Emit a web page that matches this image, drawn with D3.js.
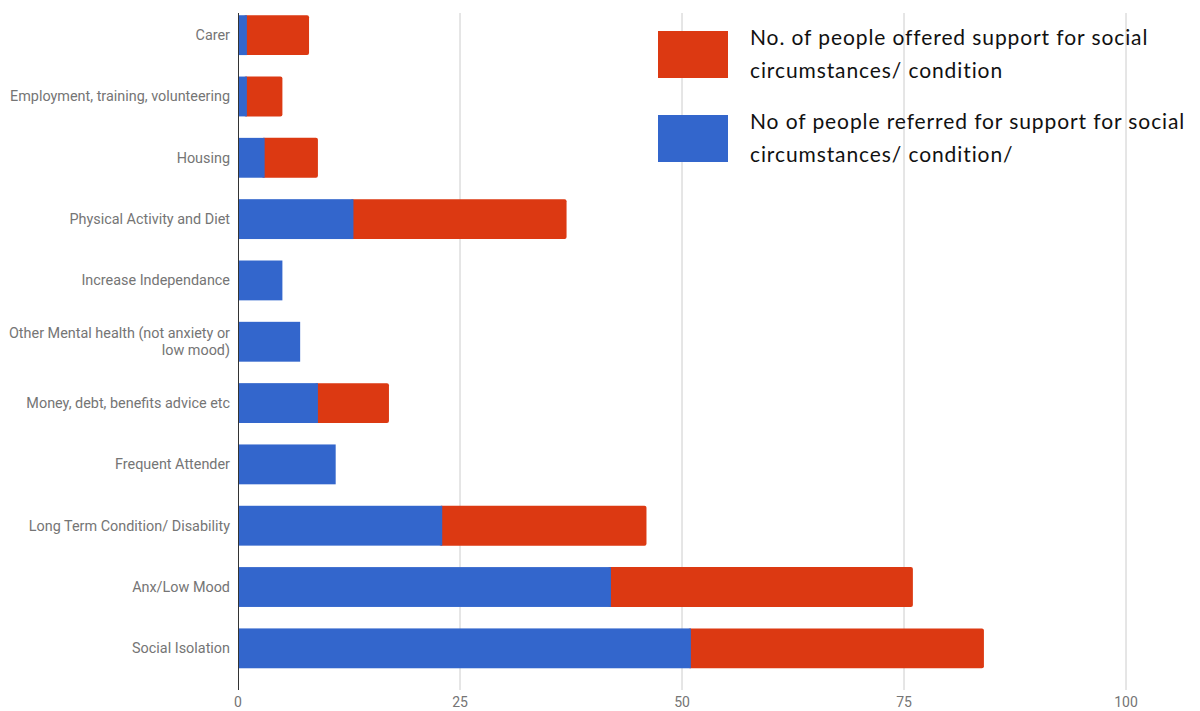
<!DOCTYPE html>
<html>
<head>
<meta charset="utf-8">
<script src="https://cdn.jsdelivr.net/npm/d3@7"></script>
<style>
  body { margin: 0; background: #fff; }
  svg { display: block; }
</style>
</head>
<body>
<div id="chart"></div>
<script>
// data
var categories = ["Carer", "Employment, training, volunteering", "Housing",
    "Physical Activity and Diet", "Increase Independance",
    "Other Mental health (not anxiety or|low mood)", "Money, debt, benefits advice etc",
    "Frequent Attender", "Long Term Condition/ Disability", "Anx/Low Mood", "Social Isolation"];
var referred = [1, 1, 3, 13, 5, 7, 9, 11, 23, 42, 51];
var offered = [7, 4, 6, 24, 0, 0, 8, 0, 23, 34, 33];
var xTicks = [0, 25, 50, 75, 100];
var seriesNames = ["No. of people offered support for social|circumstances/ condition",
    "No of people referred for support for social|circumstances/ condition/"];
var seriesColors = ["#dc3912", "#3366cc"];

var w = 1200, h = 711;

var svg = d3.select("#chart").append("svg")
    .attr("width", w)
    .attr("height", h);

var x = d3.scaleLinear().domain([0, 100]).range([238, 1126]);
var y = d3.scaleBand().domain(categories).range([4.5, 679]).paddingInner(0.35).paddingOuter(0.175);

var plotTop = 13, plotBottom = 690;

// grid lines
svg.selectAll("line.grid")
    .data(xTicks.slice(1))
    .enter()
    .append("line")
    .attr("class", "grid")
    .attr("x1", function(d) { return x(d); })
    .attr("x2", function(d) { return x(d); })
    .attr("y1", plotTop)
    .attr("y2", plotBottom)
    .attr("stroke", "#cccccc")
    .attr("stroke-width", 1);

var rows = categories.map(function(c, i) {
    return { cat: c, referred: referred[i], offered: offered[i] };
});

// offered (red) drawn from end of referred
svg.selectAll("rect.offered")
    .data(rows.filter(function(d) { return d.offered > 0; }))
    .enter()
    .append("rect")
    .attr("class", "offered")
    .attr("x", function(d) { return x(d.referred) - 3; })
    .attr("y", function(d) { return y(d.cat); })
    .attr("width", function(d) { return x(d.referred + d.offered) - x(d.referred) + 3; })
    .attr("height", y.bandwidth())
    .attr("rx", 2)
    .attr("fill", seriesColors[0]);

svg.selectAll("rect.referred")
    .data(rows)
    .enter()
    .append("rect")
    .attr("class", "referred")
    .attr("x", x(0))
    .attr("y", function(d) { return y(d.cat); })
    .attr("width", function(d) { return x(d.referred) - x(0); })
    .attr("height", y.bandwidth())
    .attr("fill", seriesColors[1]);

// baseline
svg.append("line")
    .attr("x1", x(0) + 0.5)
    .attr("x2", x(0) + 0.5)
    .attr("y1", plotTop)
    .attr("y2", plotBottom)
    .attr("stroke", "#333333")
    .attr("stroke-width", 1);

// category labels
var labels = svg.selectAll("text.cat")
    .data(categories)
    .enter()
    .append("text")
    .attr("class", "cat")
    .attr("text-anchor", "end")
    .attr("font-family", "Roboto, sans-serif")
    .attr("font-size", 14.4)
    .attr("fill", "#757575");

labels.each(function(d) {
    var parts = d.split("|");
    var cy = y(d) + y.bandwidth() / 2;
    var t = d3.select(this);
    parts.forEach(function(p, i) {
        t.append("tspan")
            .attr("x", 230)
            .attr("y", cy + 5 + (i - (parts.length - 1) / 2) * 17)
            .text(p);
    });
});

// x tick labels
svg.selectAll("text.tick")
    .data(xTicks)
    .enter()
    .append("text")
    .attr("class", "tick")
    .attr("x", function(d) { return x(d); })
    .attr("y", 707)
    .attr("text-anchor", "middle")
    .attr("font-family", "Roboto, sans-serif")
    .attr("font-size", 14)
    .attr("fill", "#757575")
    .text(function(d) { return d; });

// legend
var legend = svg.selectAll("g.legend")
    .data(seriesNames)
    .enter()
    .append("g")
    .attr("class", "legend")
    .attr("transform", function(d, i) { return "translate(658," + (31 + i * 84) + ")"; });

legend.append("rect")
    .attr("width", 70)
    .attr("height", 47)
    .attr("fill", function(d, i) { return seriesColors[i]; });

legend.append("text")
    .attr("font-family", "Lato, 'Open Sans', sans-serif")
    .attr("font-size", 21)
    .attr("letter-spacing", 0.9)
    .attr("fill", "#111")
    .each(function(d) {
        var t = d3.select(this);
        d.split("|").forEach(function(p, i) {
            t.append("tspan")
                .attr("x", 92)
                .attr("y", 14 + i * 33)
                .text(p);
        });
    });
</script>
</body>
</html>
